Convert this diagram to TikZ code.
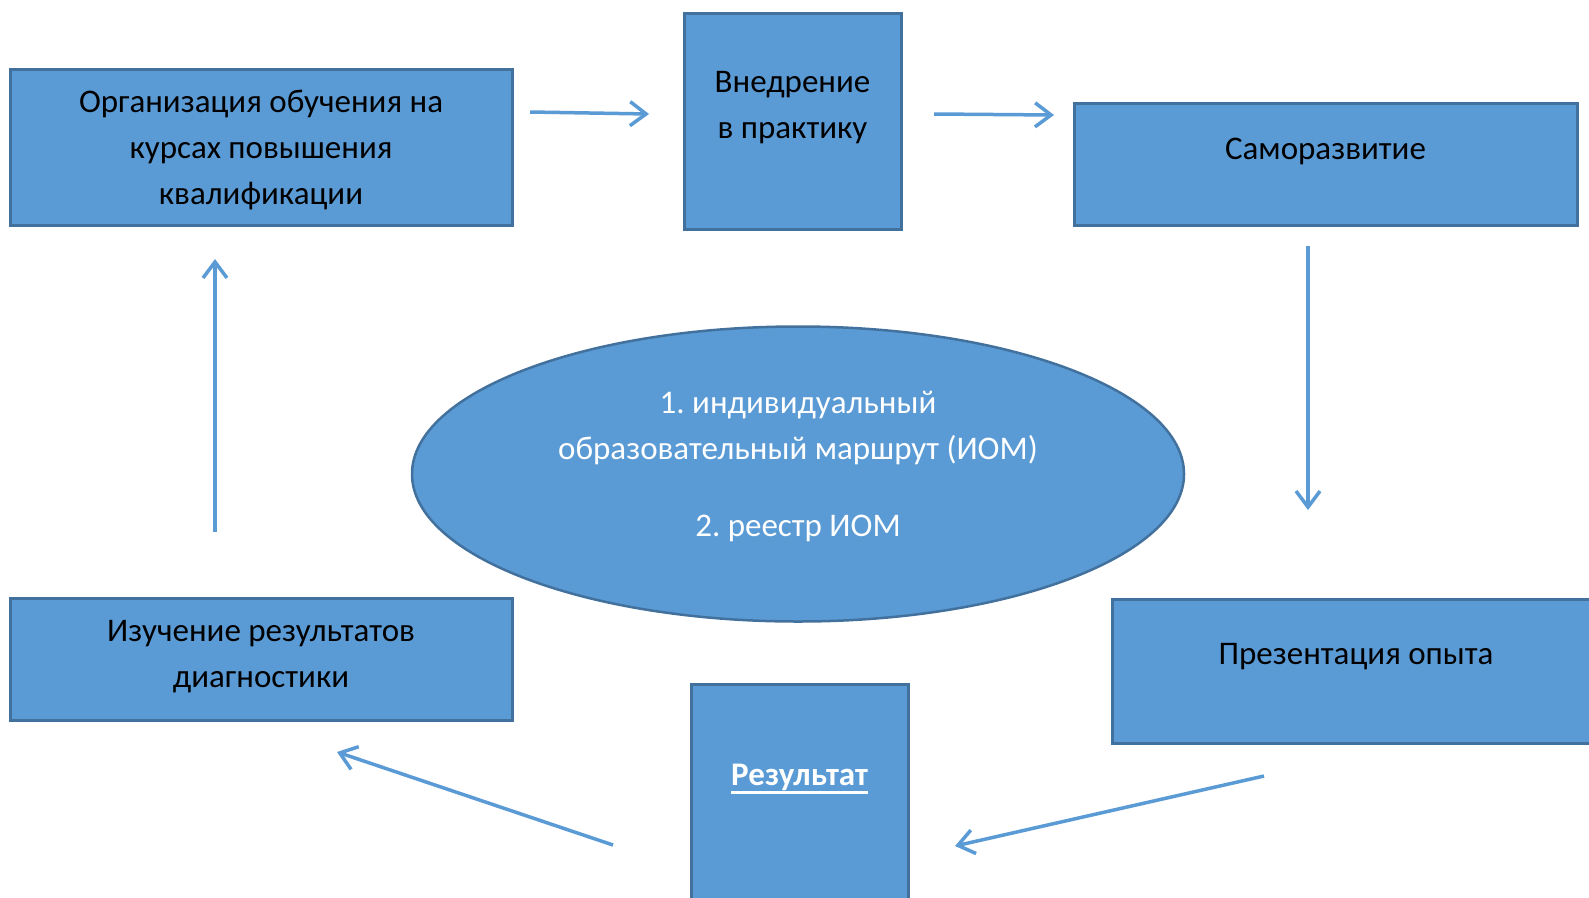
\documentclass[tikz,border=0pt]{standalone}
\usepackage{fontspec}
\setmainfont{Carlito}
\usetikzlibrary{arrows.meta,shapes.geometric,positioning}
\definecolor{boxfill}{HTML}{5B9BD5}
\definecolor{boxline}{HTML}{41719C}
\newcommand{\thickul}[1]{\setbox0\hbox{#1}\rlap{\raisebox{-9pt}{\rule{\wd0}{3pt}}}\box0}

\begin{document}
\frenchspacing
\begin{tikzpicture}[x=1pt,y=-1pt,
  box/.style={rectangle,draw=boxline,fill=boxfill,line width=3pt,inner sep=0pt},
  txt/.style={align=center,font=\fontsize{33}{46}\selectfont},
  arr/.style={draw=boxfill,line width=3.5pt,-{Straight Barb[length=16pt,width=24pt]}}]
\clip (0,0) rectangle (1589,897);
\fill[white] (0,0) rectangle (1589,897);

% boxes
\node[box,minimum width=502pt,minimum height=156pt] (org) at (261,147) {};
\node[box,minimum width=217pt,minimum height=216pt] (vnedr) at (792.5,121) {};
\node[box,minimum width=503pt,minimum height=122pt] (samo) at (1325.5,164) {};
\node[box,minimum width=502pt,minimum height=122pt] (izuch) at (261,659) {};
\node[box,minimum width=217pt,minimum height=216pt] (rez) at (799.5,792) {};
\node[box,minimum width=488pt,minimum height=144pt] (prez) at (1356,671) {};
\node[ellipse,draw=boxline,fill=boxfill,line width=2.5pt,minimum width=772pt,minimum height=295pt] (iom) at (798,474) {};

% texts
\node[txt,yshift=-3pt] (orgtext) at (org) {Организация обучения на\\курсах повышения\\квалификации};
\node[txt,yshift=13pt] (vnedrtext) at (vnedr) {Внедрение\\в практику};
\node[txt,yshift=13pt] (samotext) at (samo) {Саморазвитие};
\node[txt,yshift=2pt] (izuchtext) at (izuch) {Изучение результатов\\диагностики};
\node[txt,yshift=13pt,text=white] (reztext) at (rez) {\thickul{\textbf{Результат}}};
\node[txt,yshift=14pt] (preztext) at (prez) {Презентация опыта};
\node[txt,yshift=7pt,text=white] (iomtext) at (iom) {1. индивидуальный\\образовательный маршрут (ИОМ)\\[31pt]2. реестр ИОМ};

% arrows
\coordinate (a1s) at (530,112);
\coordinate (a1e) at (649,114);
\coordinate (a2s) at (934,114);
\coordinate (a2e) at (1054,115);
\coordinate (a3s) at (1308,246);
\coordinate (a3e) at (1308,510);
\coordinate (a4s) at (1264,776);
\coordinate (a4e) at (955,846);
\coordinate (a5s) at (613,845);
\coordinate (a5e) at (337,752);
\coordinate (a6s) at (215,532);
\coordinate (a6e) at (215,259);
\draw[arr] (a1s) -- (a1e);
\draw[arr] (a2s) -- (a2e);
\draw[arr] (a3s) -- (a3e);
\draw[arr] (a4s) -- (a4e);
\draw[arr] (a5s) -- (a5e);
\draw[arr] (a6s) -- (a6e);
\end{tikzpicture}
\end{document}
